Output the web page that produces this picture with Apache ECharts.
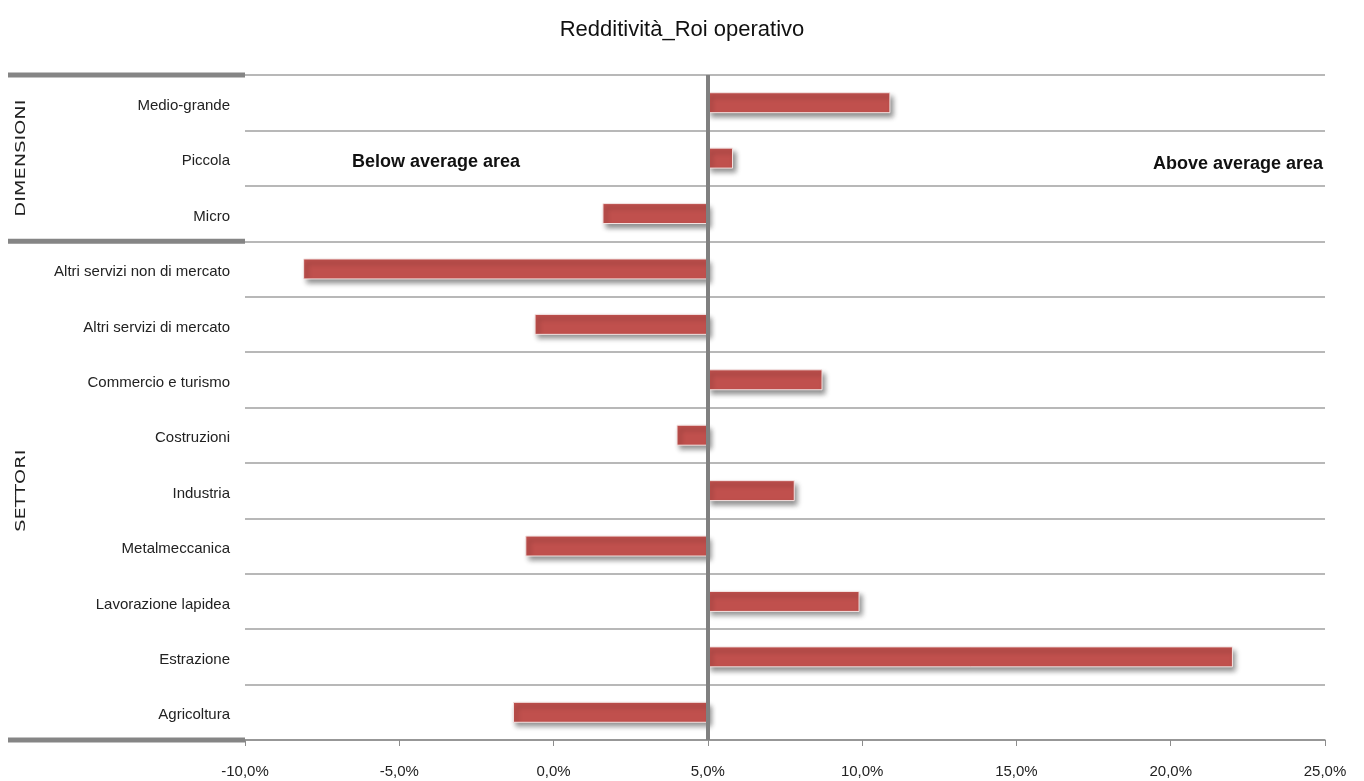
<!DOCTYPE html>
<html>
<head>
<meta charset="utf-8">
<script src="https://cdn.jsdelivr.net/npm/echarts@6/dist/echarts.min.js"></script>
<style>
  html, body { margin: 0; padding: 0; background: #fff; }
  #chart { width: 1364px; height: 781px; }
</style>
</head>
<body>
<div id="chart"></div>
<script>
// Categories, top to bottom
const categories = [
  'Medio-grande', 'Piccola', 'Micro',
  'Altri servizi non di mercato', 'Altri servizi di mercato', 'Commercio e turismo',
  'Costruzioni', 'Industria', 'Metalmeccanica', 'Lavorazione lapidea',
  'Estrazione', 'Agricoltura'
];
// ROI operativo (%) per category
const roiValues = [10.9, 5.8, 1.6, -8.1, -0.6, 8.7, 4.0, 7.8, -0.9, 9.9, 22.0, -1.3];
// Average ROI: bars grow from here
const averageRoi = 5.0;
// Groups of rows: label and number of categories
const groups = [
  { name: 'DIMENSIONI', count: 3 },
  { name: 'SETTORI', count: 9 }
];
const xTicks = { min: -10, max: 25, step: 5 };

const FONT = '"Liberation Sans", "Open Sans", sans-serif';
const chart = echarts.init(document.getElementById('chart'));

const option = {
  animation: false,
  backgroundColor: '#ffffff',
  title: {
    text: 'Redditività_Roi operativo',
    left: 'center',
    top: 14,
    textStyle: { fontFamily: FONT, fontSize: 22, fontWeight: 'normal', color: '#111' }
  },
  grid: { left: 245, right: 39, top: 75, bottom: 41 },
  xAxis: {
    type: 'value',
    min: xTicks.min, max: xTicks.max, interval: xTicks.step,
    axisLine: { show: true, lineStyle: { color: '#8c8c8c', width: 1.5 } },
    axisTick: { show: true, length: 6, lineStyle: { color: '#8c8c8c' } },
    splitLine: { show: false },
    axisLabel: {
      margin: 24,
      fontFamily: FONT, fontSize: 15, color: '#222',
      formatter: v => v.toFixed(1).replace('.', ',') + '%'
    }
  },
  yAxis: {
    type: 'category',
    data: categories,
    inverse: true,
    axisLine: { show: false },
    axisTick: { show: false },
    splitLine: { show: true, lineStyle: { color: '#a0a0a0', width: 1.5 } },
    axisLabel: {
      margin: 15, fontFamily: FONT, fontSize: 15, color: '#222',
      lineHeight: 22, verticalAlign: 'top', padding: [-8, 0, 0, 0]
    }
  },
  series: [{
    type: 'custom',
    data: roiValues.map((v, i) => [v, i]),
    encode: { x: 0, y: 1 },
    renderItem: function (params, api) {
      const idx = api.value(1);
      const p0 = api.coord([averageRoi, idx]);
      const p1 = api.coord([api.value(0), idx]);
      const h = api.size([0, 1])[1] * 0.36;
      const x = Math.min(p0[0], p1[0]);
      const w = Math.abs(p1[0] - p0[0]);
      return {
        type: 'rect',
        shape: { x: x, y: p0[1] - h / 2, width: w, height: h },
        style: {
          fill: '#c0504d',
          stroke: '#f4e4e3',
          lineWidth: 1,
          shadowBlur: 5,
          shadowOffsetX: 3,
          shadowOffsetY: 4,
          shadowColor: 'rgba(0,0,0,0.45)'
        }
      };
    },
    markLine: {
      silent: true,
      symbol: 'none',
      label: { show: false },
      lineStyle: { color: '#808080', width: 4, type: 'solid' },
      data: [{ xAxis: averageRoi }]
    },
    z: 3
  }]
};
chart.setOption(option);

// Group separators, group titles and area notes, placed from the axis scales
function boundaryY(i) {
  const c0 = chart.convertToPixel({ yAxisIndex: 0 }, 0);
  const c1 = chart.convertToPixel({ yAxisIndex: 0 }, 1);
  const band = c1 - c0;
  return c0 - band / 2 + band * i;
}
const graphics = [];
let start = 0;
const boundaries = [0];
groups.forEach(g => {
  const yTop = boundaryY(start);
  const yBot = boundaryY(start + g.count);
  graphics.push({
    type: 'text',
    x: 21, y: (yTop + yBot) / 2,
    rotation: Math.PI / 2,
    scaleX: 1.38,
    style: {
      text: g.name,
      fontFamily: '"DejaVu Sans", sans-serif',
      fontSize: 14,
      fill: '#222',
      align: 'center',
      verticalAlign: 'middle'
    },
    z: 10
  });
  start += g.count;
  boundaries.push(start);
});
const gridLeft = chart.convertToPixel({ xAxisIndex: 0 }, xTicks.min);
boundaries.forEach(b => {
  const y = boundaryY(b);
  graphics.push({
    type: 'line',
    shape: { x1: 8, y1: y, x2: gridLeft, y2: y },
    style: { stroke: '#858585', lineWidth: 5 },
    z: 10
  });
});
const rowY = (boundaryY(1) + boundaryY(2)) / 2;
graphics.push({
  type: 'text',
  x: 352, y: rowY + 4,
  style: {
    text: 'Below average area',
    fontFamily: FONT, fontSize: 18, fontWeight: 'bold', fill: '#111',
    align: 'left', verticalAlign: 'middle'
  },
  z: 10
});
graphics.push({
  type: 'text',
  x: chart.convertToPixel({ xAxisIndex: 0 }, xTicks.max) - 2, y: rowY + 6,
  style: {
    text: 'Above average area',
    fontFamily: FONT, fontSize: 18, fontWeight: 'bold', fill: '#111',
    align: 'right', verticalAlign: 'middle'
  },
  z: 10
});
chart.setOption({ graphic: graphics });
</script>
</body>
</html>
